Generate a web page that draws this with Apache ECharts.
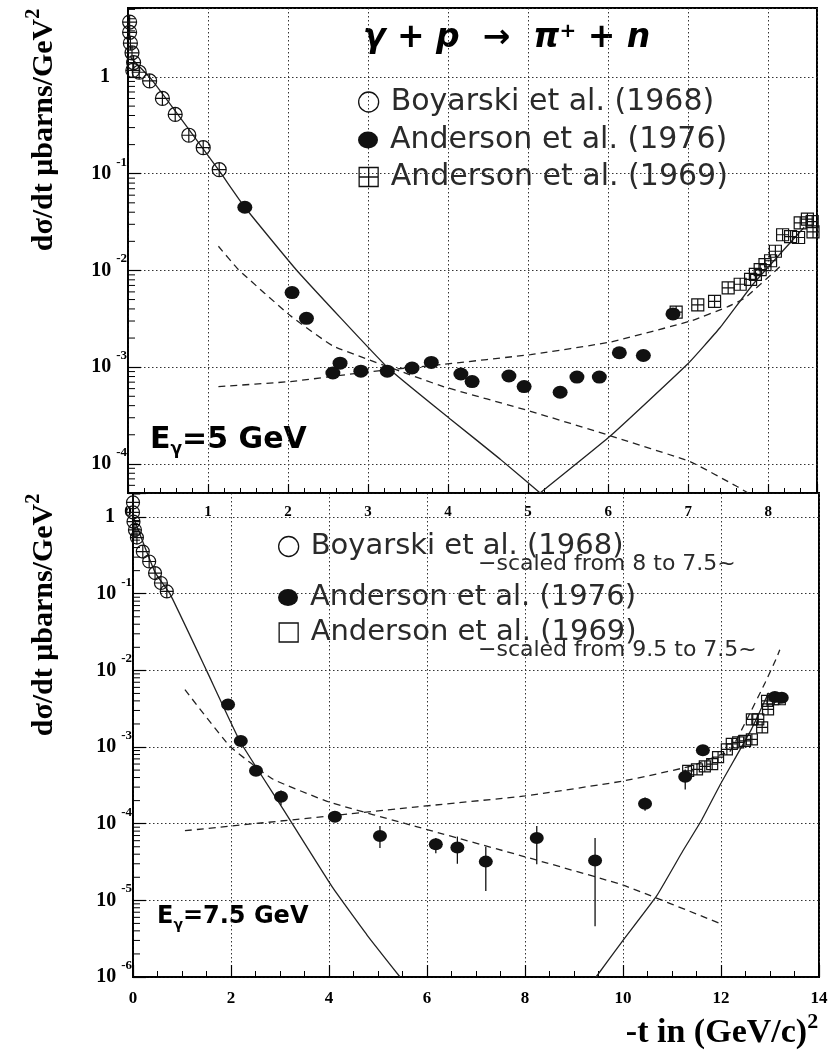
<!DOCTYPE html>
<html><head><meta charset="utf-8">
<script src="https://cdn.jsdelivr.net/npm/echarts@6/dist/echarts.min.js"></script>
<style>html,body{margin:0;padding:0;background:#fff}#c{width:835px;height:1050px}</style>
</head><body><div id="c"></div>
<script>
// ---------------- data ----------------
const NAME_B = 'Boyarski et al. (1968)';
const NAME_A76 = 'Anderson et al. (1976)';
const NAME_A69 = 'Anderson et al. (1969)';

const topXTicks = [0, 1, 2, 3, 4, 5, 6, 7, 8];
const bottomXTicks = [0, 2, 4, 6, 8, 10, 12, 14];

// top panel, E_gamma = 5 GeV  [-t, dsigma/dt]
const boyarski5 = [[0.02,3.7],[0.02,2.9],[0.03,2.24],[0.05,1.78],[0.07,1.41],[0.06,1.17],[0.14,1.12],[0.27,0.91],[0.43,0.60],[0.59,0.41],[0.76,0.25],[0.94,0.186],[1.14,0.11]];
const anderson76_5 = [[1.46,0.045],[2.05,0.0059],[2.23,0.0032],[2.56,0.00087],[2.65,0.0011],[2.91,0.00091],[3.24,0.00091],[3.55,0.00098],[3.79,0.00112],[4.16,0.00085],[4.30,0.00071],[4.76,0.00081],[4.95,0.00063],[5.40,0.00055],[5.61,0.00079],[5.89,0.00079],[6.14,0.00141],[6.44,0.00132],[6.81,0.00355]];
const anderson69_5 = [[6.85,0.0037],[7.12,0.0044],[7.33,0.0048],[7.50,0.0066],[7.65,0.0072],[7.78,0.0081],[7.84,0.0091],[7.90,0.0102],[7.96,0.0115],[8.03,0.0126],[8.09,0.0158],[8.18,0.0234],[8.28,0.0224],[8.38,0.0219],[8.40,0.031],[8.49,0.034],[8.55,0.032],[8.56,0.025]];
const fit5Left = [[0.03,1.6],[0.30,0.93],[1.13,0.11],[1.46,0.045],[2.11,0.0100],[3.24,0.0010],[4.03,0.00029],[4.65,0.000112],[5.15,0.00005]];
const fit5Right = [[5.15,0.00005],[6.03,0.000195],[6.99,0.00107],[7.40,0.00257],[7.81,0.0072],[8.45,0.028]];
const dashA5 = [[1.13,0.0178],[1.38,0.0102],[2.03,0.0034],[2.56,0.00166],[3.40,0.00091],[3.94,0.00063],[5.03,0.00035],[6.03,0.000195],[7.03,0.000105],[7.60,0.000059],[7.75,0.00005]];
const dashB5 = [[1.13,0.00063],[2.03,0.00071],[2.99,0.00089],[3.94,0.00107],[5.03,0.00135],[6.03,0.00182],[7.03,0.0030],[7.49,0.0042],[7.71,0.0052],[8.15,0.011]];

// bottom panel, E_gamma = 7.5 GeV
const boyarski75 = [[0.00,1.55],[0.00,1.15],[0.01,0.87],[0.04,0.68],[0.08,0.54],[0.20,0.355],[0.33,0.263],[0.45,0.186],[0.57,0.138],[0.69,0.107]];
const anderson76_75 = [[1.94,0.0036],[2.20,0.0012],[2.51,0.00049],[3.02,0.000224],[4.12,0.000123],[5.04,0.000069],[6.18,0.000054],[6.62,0.000049],[7.20,0.000032],[8.24,0.000065],[9.43,0.000033],[10.45,0.000182],[11.27,0.00041],[11.63,0.00091],[13.10,0.0045],[13.24,0.0044]];
const anderson76_75Err = [[3.02,0.000174,0.00027],[4.12,0.000105,0.000138],[5.04,0.000048,0.000093],[6.18,0.000041,0.000065],[6.62,0.00003,0.000068],[7.20,0.0000132,0.00005],[8.24,0.0000295,0.000093],[9.43,0.0000046,0.000065],[10.45,0.000148,0.00022],[11.27,0.00028,0.00051]];
const anderson69_75 = [[11.33,0.00049],[11.51,0.00051],[11.67,0.00056],[11.82,0.00060],[11.94,0.00074],[12.12,0.00093],[12.22,0.0011],[12.35,0.00115],[12.49,0.0012],[12.63,0.00126],[12.63,0.0023],[12.76,0.0023],[12.84,0.0018],[12.96,0.0031],[12.94,0.0040],[13.06,0.0042],[13.20,0.0042]];
const fit75Left = [[0.02,0.95],[0.45,0.19],[0.76,0.098],[1.50,0.01],[2.18,0.0012],[3.00,0.00018],[4.08,0.0000145],[4.78,0.0000035],[5.45,0.000001]];
const fit75Right = [[9.45,0.000001],[10.0,0.000003],[10.69,0.0000115],[11.22,0.000044],[11.60,0.00011],[11.98,0.00032],[12.62,0.0017],[12.97,0.0051]];
const dashA75 = [[1.06,0.0056],[1.98,0.00102],[2.86,0.00038],[4.02,0.00019],[5.80,0.000091],[8.00,0.000037],[10.0,0.0000158],[11.98,0.000005]];
const dashB75 = [[1.06,0.000081],[4.02,0.000126],[5.80,0.000166],[8.00,0.00023],[10.0,0.00036],[11.37,0.00056],[11.98,0.00079],[12.18,0.00087],[12.53,0.0023],[12.90,0.0069],[13.14,0.0148],[13.20,0.0186]];

// ---------------- styling ----------------
const SERIF = '"Liberation Serif", "Times New Roman", serif';
const SANS = '"DejaVu Sans", sans-serif';
const INK = '#111';
const CIRC_X = 'path://M0 10A10 10 0 1 0 20 10A10 10 0 1 0 0 10ZM0 10H20M10 0V20';
const SQ_X = 'path://M0 0H20V20H0ZM0 10H20M10 0V20';
const L_CIRC = 'path://M0 0M34 20M7 10A10 10 0 1 0 27 10A10 10 0 1 0 7 10Z';
const L_ELL = 'path://M0 0M34 20M7 10A10 8.5 0 1 0 27 10A10 8.5 0 1 0 7 10Z';
const L_SQX = 'path://M0 0M34 20M7.5 0.5H26.5V19.5H7.5ZM7.5 10H26.5M17 0.5V19.5';
const L_SQ = 'path://M0 0M34 20M7.5 0.5H26.5V19.5H7.5Z';

const TOP_Y = [0.00005, 5.17];
const BOT_Y = [0.000001, 2.06];

function yLabel(v) {
  const l = Math.log10(v); const e = Math.round(l);
  if (Math.abs(l - e) > 1e-6) return '';
  if (e === 0) return '{one|1}';
  return '{b|10}{s|' + e + '}';
}
const yLabelRich = {
  b: {fontFamily: SERIF, fontWeight: 'bold', fontSize: 20, lineHeight: 36, color: '#000'},
  s: {fontFamily: SERIF, fontWeight: 'bold', fontSize: 13, lineHeight: 13, verticalAlign: 'top', padding: [0,0,0,5], color: '#000'},
  one: {fontFamily: SERIF, fontWeight: 'bold', fontSize: 20, lineHeight: 36, padding: [0,17,0,0], color: '#000'}
};
const gridLine = {show: true, lineStyle: {color: '#333', width: 1, type: [1.5, 2.5]}};
const axisLine = {show: true, lineStyle: {color: '#000', width: 1.5}};

function minorTickValues(range) {
  const out = [];
  for (let e = -7; e <= 1; e++) for (let m = 2; m <= 9; m++) {
    const v = m * Math.pow(10, e);
    if (v > range[0] * 1.001 && v < range[1] * 0.999) out.push([0, v]);
  }
  return out;
}
function minorTickSeries(idx, range) {
  return {type: 'custom', xAxisIndex: idx, yAxisIndex: idx, silent: true, z: 5,
    data: minorTickValues(range),
    renderItem: (p, api) => {
      const c = api.coord([api.value(0), api.value(1)]);
      return {type: 'line', shape: {x1: c[0], y1: c[1], x2: c[0] + 7, y2: c[1]}, style: {stroke: '#000', lineWidth: 1}};
    }};
}
function lineSeries(idx, data, dashed) {
  return {type: 'line', xAxisIndex: idx, yAxisIndex: idx, data: data, showSymbol: false, symbol: 'none',
    smooth: 0.12, silent: true, clip: true, z: 3,
    lineStyle: {color: '#222', width: 1.3, type: dashed ? [7, 5] : 'solid'}};
}
function openSeries(idx, name, data, sym, size) {
  return {type: 'scatter', name: name, xAxisIndex: idx, yAxisIndex: idx, data: data, symbol: sym, symbolSize: size, z: 4,
    itemStyle: {color: 'rgba(255,255,255,0)', borderColor: INK, borderWidth: 1.2, opacity: 1}};
}
function filledSeries(idx, name, data, size) {
  return {type: 'scatter', name: name, xAxisIndex: idx, yAxisIndex: idx, data: data, symbol: 'circle', symbolSize: size, z: 6,
    itemStyle: {color: INK, opacity: 1}};
}
function legendItem(left, top, name, icon, filled, fs) {
  return {left: left, top: top, padding: 0, itemWidth: 34, itemHeight: 20, selectedMode: false,
    data: [{name: name, icon: icon,
      itemStyle: filled ? {color: INK, borderColor: INK, borderWidth: 0, opacity: 1} : {color: 'rgba(255,255,255,0)', borderColor: INK, borderWidth: 1.3, opacity: 1}}],
    textStyle: {fontFamily: SANS, fontSize: fs, lineHeight: 20, color: '#2a2a2a'}};
}

const option = {
  animation: false,
  backgroundColor: '#fff',
  grid: [
    {left: 128, right: 18, top: 8, bottom: 557, show: true, borderColor: '#000', borderWidth: 2, backgroundColor: 'transparent', outerBoundsMode: 'none'},
    {left: 133, right: 16, top: 493, bottom: 73, show: true, borderColor: '#000', borderWidth: 2, backgroundColor: 'transparent', outerBoundsMode: 'none'}
  ],
  xAxis: [
    {gridIndex: 0, type: 'value', min: 0, max: 8.61, interval: 1, position: 'bottom',
      axisLine: axisLine, splitLine: gridLine,
      axisTick: {show: true, inside: true, length: 9, lineStyle: {color: '#000', width: 1.2}},
      minorTick: {show: true, splitNumber: 5, length: 5, lineStyle: {color: '#000', width: 1}},
      axisLabel: {margin: 12, fontFamily: SERIF, fontWeight: 'bold', fontSize: 15, color: '#000',
        formatter: v => topXTicks.indexOf(v) >= 0 ? String(v) : ''}},
    {gridIndex: 1, type: 'value', min: 0, max: 14, interval: 2, position: 'bottom',
      axisLine: axisLine, splitLine: gridLine,
      axisTick: {show: true, inside: true, length: 12, lineStyle: {color: '#000', width: 1.2}},
      minorTick: {show: true, splitNumber: 4, length: 6, lineStyle: {color: '#000', width: 1}},
      axisLabel: {margin: 13, fontFamily: SERIF, fontWeight: 'bold', fontSize: 17, color: '#000',
        formatter: v => bottomXTicks.indexOf(v) >= 0 ? String(v) : ''}}
  ],
  yAxis: [
    {gridIndex: 0, type: 'log', logBase: 10, min: TOP_Y[0], max: TOP_Y[1], splitNumber: 5,
      axisLine: axisLine, splitLine: gridLine,
      axisTick: {show: true, inside: true, length: 13, lineStyle: {color: '#000', width: 1.2}},
      axisLabel: {margin: 1, formatter: yLabel, rich: yLabelRich}},
    {gridIndex: 1, type: 'log', logBase: 10, min: BOT_Y[0], max: BOT_Y[1], splitNumber: 6,
      axisLine: axisLine, splitLine: gridLine,
      axisTick: {show: true, inside: true, length: 13, lineStyle: {color: '#000', width: 1.2}},
      axisLabel: {margin: 1, formatter: yLabel, rich: yLabelRich}}
  ],
  legend: [
    legendItem(351, 87, NAME_B, L_CIRC, false, 30),
    legendItem(351, 125, NAME_A76, L_ELL, true, 30),
    legendItem(351, 162, NAME_A69, L_SQX, false, 30),
    legendItem(271, 532, NAME_B, L_CIRC, false, 29),
    legendItem(271, 583, NAME_A76, L_ELL, true, 29),
    legendItem(271, 618, NAME_A69, L_SQ, false, 29)
  ],
  graphic: [
    {type: 'text', x: 363, y: 38, silent: true, style: {text: 'γ + p  →  π{s|+} + n', fontFamily: SANS, fontWeight: 'bold', fontStyle: 'italic', fontSize: 33, fill: '#000', align: 'left', verticalAlign: 'middle',
      rich: {s: {fontFamily: SANS, fontWeight: 'bold', fontSize: 20, verticalAlign: 'top', lineHeight: 20, fill: '#000'}}}},
    {type: 'text', x: 150, y: 440, silent: true, style: {text: '{e|E}{g|γ}{e|=5 GeV}', align: 'left', verticalAlign: 'middle',
      rich: {e: {fontFamily: SANS, fontWeight: 'bold', fontSize: 30, lineHeight: 36, fill: '#000'}, g: {fontFamily: SANS, fontWeight: 'bold', fontSize: 17, lineHeight: 17, verticalAlign: 'bottom', fill: '#000'}}}},
    {type: 'text', x: 157, y: 917, silent: true, style: {text: '{e|E}{g|γ}{e|=7.5 GeV}', align: 'left', verticalAlign: 'middle',
      rich: {e: {fontFamily: SANS, fontWeight: 'bold', fontSize: 24, lineHeight: 30, fill: '#000'}, g: {fontFamily: SANS, fontWeight: 'bold', fontSize: 14, lineHeight: 14, verticalAlign: 'bottom', fill: '#000'}}}},
    {type: 'text', x: 478, y: 564, silent: true, style: {text: '−scaled from 8 to 7.5~', fontFamily: SANS, fontSize: 22, fill: '#2a2a2a', align: 'left', verticalAlign: 'middle'}},
    {type: 'text', x: 478, y: 650, silent: true, style: {text: '−scaled from 9.5 to 7.5~', fontFamily: SANS, fontSize: 22, fill: '#2a2a2a', align: 'left', verticalAlign: 'middle'}},
    {type: 'text', x: 44, y: 130, rotation: Math.PI / 2, silent: true, style: {text: 'dσ/dt μbarns/GeV{s|2}', fontFamily: SERIF, fontWeight: 'bold', fontSize: 30, lineHeight: 40, fill: '#000', align: 'center', verticalAlign: 'middle',
      rich: {s: {fontFamily: SERIF, fontWeight: 'bold', fontSize: 20, lineHeight: 20, verticalAlign: 'top', fill: '#000'}}}},
    {type: 'text', x: 44, y: 615, rotation: Math.PI / 2, silent: true, style: {text: 'dσ/dt μbarns/GeV{s|2}', fontFamily: SERIF, fontWeight: 'bold', fontSize: 30, lineHeight: 40, fill: '#000', align: 'center', verticalAlign: 'middle',
      rich: {s: {fontFamily: SERIF, fontWeight: 'bold', fontSize: 20, lineHeight: 20, verticalAlign: 'top', fill: '#000'}}}},
    {type: 'text', x: 722, y: 1033, silent: true, style: {text: '-t in (GeV/c){s|2}', fontFamily: SERIF, fontWeight: 'bold', fontSize: 34, lineHeight: 44, fill: '#000', align: 'center', verticalAlign: 'middle',
      rich: {s: {fontFamily: SERIF, fontWeight: 'bold', fontSize: 22, lineHeight: 22, verticalAlign: 'top', fill: '#000'}}}}
  ],
  series: [
    minorTickSeries(0, TOP_Y),
    minorTickSeries(1, BOT_Y),
    lineSeries(0, fit5Left, false),
    lineSeries(0, fit5Right, false),
    lineSeries(0, dashA5, true),
    lineSeries(0, dashB5, true),
    openSeries(0, NAME_B, boyarski5, CIRC_X, 14),
    filledSeries(0, NAME_A76, anderson76_5, [15, 13]),
    openSeries(0, NAME_A69, anderson69_5, SQ_X, 12),
    lineSeries(1, fit75Left, false),
    lineSeries(1, fit75Right, false),
    lineSeries(1, dashA75, true),
    lineSeries(1, dashB75, true),
    {type: 'custom', xAxisIndex: 1, yAxisIndex: 1, silent: true, z: 5, data: anderson76_75Err,
      encode: {x: 0, y: [1, 2]},
      renderItem: (p, api) => {
        const a = api.coord([api.value(0), api.value(1)]);
        const b = api.coord([api.value(0), api.value(2)]);
        return {type: 'line', shape: {x1: a[0], y1: a[1], x2: b[0], y2: b[1]}, style: {stroke: INK, lineWidth: 1.3}};
      }},
    openSeries(1, NAME_B, boyarski75, CIRC_X, 13),
    filledSeries(1, NAME_A76, anderson76_75, [14, 12]),
    openSeries(1, NAME_A69, anderson69_75, SQ_X, 11)
  ]
};
const chart = echarts.init(document.getElementById('c'));
chart.setOption(option);
</script>
</body></html>
